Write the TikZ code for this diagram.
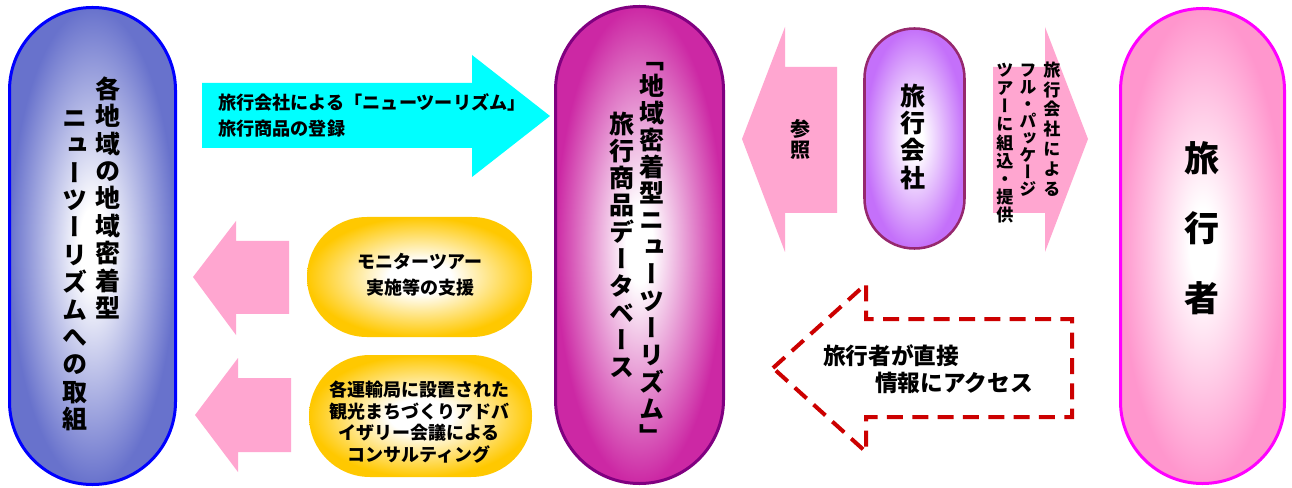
\documentclass[tikz,border=0pt]{standalone}
\usepackage{fontspec}
\newfontfamily\jp{Noto Sans CJK JP}
\newfontfamily\jpv{Noto Sans CJK JP}[RawFeature=+vert]
\definecolor{cBlueF}{RGB}{104,114,204}
\definecolor{cBlueB}{RGB}{0,0,255}
\definecolor{cMagF}{RGB}{204,40,164}
\definecolor{cMagB}{RGB}{128,0,128}
\definecolor{cVioF}{RGB}{196,112,250}
\definecolor{cVioB}{RGB}{150,40,110}
\definecolor{cPinkF}{RGB}{255,150,205}
\definecolor{cPinkB}{RGB}{255,0,255}
\definecolor{cGold}{RGB}{255,200,0}
\definecolor{cArrow}{RGB}{255,166,208}
\definecolor{cCyan}{RGB}{0,255,255}
\definecolor{cRed}{RGB}{204,0,0}
\pgfdeclareradialshading{sBlue}{\pgfpoint{0bp}{0bp}}{color(0bp)=(white); color(4bp)=(white); color(25bp)=(cBlueF); color(50bp)=(cBlueF)}
\pgfdeclareradialshading{sMag}{\pgfpoint{0bp}{0bp}}{color(0bp)=(white); color(4bp)=(white); color(25bp)=(cMagF); color(50bp)=(cMagF)}
\pgfdeclareradialshading{sVio}{\pgfpoint{0bp}{0bp}}{color(0bp)=(white); color(4bp)=(white); color(25bp)=(cVioF); color(50bp)=(cVioF)}
\pgfdeclareradialshading{sPink}{\pgfpoint{0bp}{0bp}}{color(0bp)=(white); color(4bp)=(white); color(25bp)=(cPinkF); color(50bp)=(cPinkF)}
\pgfdeclareradialshading{sGold}{\pgfpoint{0bp}{0bp}}{color(0bp)=(white); color(7bp)=(white); color(25bp)=(cGold); color(50bp)=(cGold)}
\ExplSyntaxOn
\NewDocumentCommand\vtxt{mm}{\vbox{\baselineskip=#1\relax\lineskip=0pt\relax\tl_map_inline:nn{#2}{\hbox_to_wd:nn{1em}{\hss\rule[-.12em]{0pt}{1em}##1\hss}}}}
\ExplSyntaxOff
\tikzset{
  pill/.style={rectangle, line width=2.25pt, shade, inner sep=0pt},
  vlab/.style={anchor=north, inner sep=0pt, text=black},
  hlab/.style={inner sep=0pt, align=left, text=black},
  blockarrow/.style={fill=cArrow, draw=none},
}
\begin{document}
\begin{tikzpicture}[x=0.75pt,y=-0.75pt]
\useasboundingbox (0,0) rectangle (1292,488);
\fill[white] (0,0) rectangle (1292,488);
% pills
\node[pill, draw=cBlueB, shading=sBlue, rounded corners=62pt, minimum width=124.5pt, minimum height=357.75pt] (local) at (92.5,246) {};
\node[pill, draw=cMagB, shading=sMag, rounded corners=62.8pt, minimum width=126pt, minimum height=357.75pt] (db) at (639.5,245) {};
\node[pill, draw=cVioB, line width=1.9pt, shading=sVio, rounded corners=37.4pt, minimum width=75pt, minimum height=165pt] (agency) at (914.5,138.5) {};
\node[pill, draw=cPinkB, shading=sPink, rounded corners=61.3pt, minimum width=123pt, minimum height=356.25pt] (traveler) at (1202.5,246) {};
\node[pill, draw=none, shading=sGold, rounded corners=44.9pt, minimum width=168.75pt, minimum height=90pt] (monitor) at (419.5,277) {};
\node[pill, draw=none, shading=sGold, rounded corners=45.7pt, minimum width=167.25pt, minimum height=91.5pt] (advisory) at (420.5,416) {};
% block arrows
\fill[cCyan] (202,83) -- (472,83) -- (472,55) -- (550,116) -- (472,177) -- (472,148) -- (202,148) -- cycle;
\fill[blockarrow] (837,67) -- (785,67) -- (785,27) -- (742,139) -- (785,252) -- (785,213) -- (837,213) -- cycle;
\fill[blockarrow] (993,67) -- (1045,67) -- (1045,27) -- (1088,139) -- (1045,252) -- (1045,213) -- (993,213) -- cycle;
\fill[blockarrow] (289,241) -- (236,241) -- (236,221) -- (193,277) -- (236,335) -- (236,314) -- (289,314) -- cycle;
\fill[blockarrow] (291,378) -- (238,378) -- (238,358) -- (195,415) -- (238,472) -- (238,452) -- (291,452) -- cycle;
\draw[cRed, line width=3pt, dash pattern=on 12pt off 7pt] (773,368) -- (866,284) -- (866,319) -- (1072,319) -- (1072,417) -- (866,417) -- (866,452) -- cycle;
% vertical labels
\node[vlab, font={\jpv\bfseries\fontsize{18.75pt}{20.55pt}\selectfont}] (localR) at (108,76) {\vtxt{20.55pt}{各地域の地域密着型}};
\node[vlab, font={\jpv\bfseries\fontsize{18.75pt}{20.55pt}\selectfont}] (localL) at (75,105) {\vtxt{20.55pt}{ニューツーリズムへの取組}};
\node[vlab, font={\jpv\bfseries\fontsize{18.75pt}{20.2pt}\selectfont}] (dbR) at (652,46) {\vtxt{20.2pt}{「地域密着型ニューツーリズム」}};
\node[vlab, font={\jpv\bfseries\fontsize{18.75pt}{20.3pt}\selectfont}] (dbL) at (622,111) {\vtxt{20.3pt}{旅行商品データベース}};
\node[vlab, font={\jpv\bfseries\fontsize{18.75pt}{20.5pt}\selectfont}] (agencyT) at (913,83) {\vtxt{20.5pt}{旅行会社}};
\node[vlab, font={\jpv\bfseries\fontsize{15pt}{15.75pt}\selectfont}] (refT) at (800,119) {\vtxt{15.75pt}{参照}};
\node[vlab, font={\jpv\bfseries\fontsize{12.8pt}{14.85pt}\selectfont}] (pkgR) at (1052,61) {\vtxt{14.85pt}{旅行会社による}};
\node[vlab, font={\jpv\bfseries\fontsize{12.8pt}{12.8pt}\selectfont}] (pkgM) at (1028,61) {\vtxt{12.8pt}{フル・パッケージ}};
\node[vlab, font={\jpv\bfseries\fontsize{12.8pt}{13.65pt}\selectfont}] (pkgL) at (1005,61) {\vtxt{13.65pt}{ツアーに組込・提供}};
\node[vlab, font={\jpv\bfseries\fontsize{26.25pt}{52.5pt}\selectfont}] (travelerT) at (1202,140) {\vtxt{52.5pt}{旅行者}};
% horizontal labels
\node[hlab, anchor=west, font={\jp\bfseries\fontsize{13.6pt}{19.5pt}\selectfont}] (regT) at (218,115) {旅行会社による「ニューツーリズム」\\旅行商品の登録};
\node[hlab, align=center, font={\jp\bfseries\fontsize{13.5pt}{19.5pt}\selectfont}] (monitorT) at (420,275) {モニターツアー\\実施等の支援};
\node[hlab, align=center, font={\jp\bfseries\fontsize{13.5pt}{16.3pt}\selectfont}] (advisoryT) at (419,422) {各運輸局に設置された\\観光まちづくりアドバ\\イザリー会議による\\コンサルティング};
\node[hlab, anchor=west, font={\jp\bfseries\fontsize{17pt}{20.25pt}\selectfont}] (directT) at (823,369.5) {旅行者が直接\\\hspace*{39pt}情報にアクセス};
\end{tikzpicture}
\end{document}
